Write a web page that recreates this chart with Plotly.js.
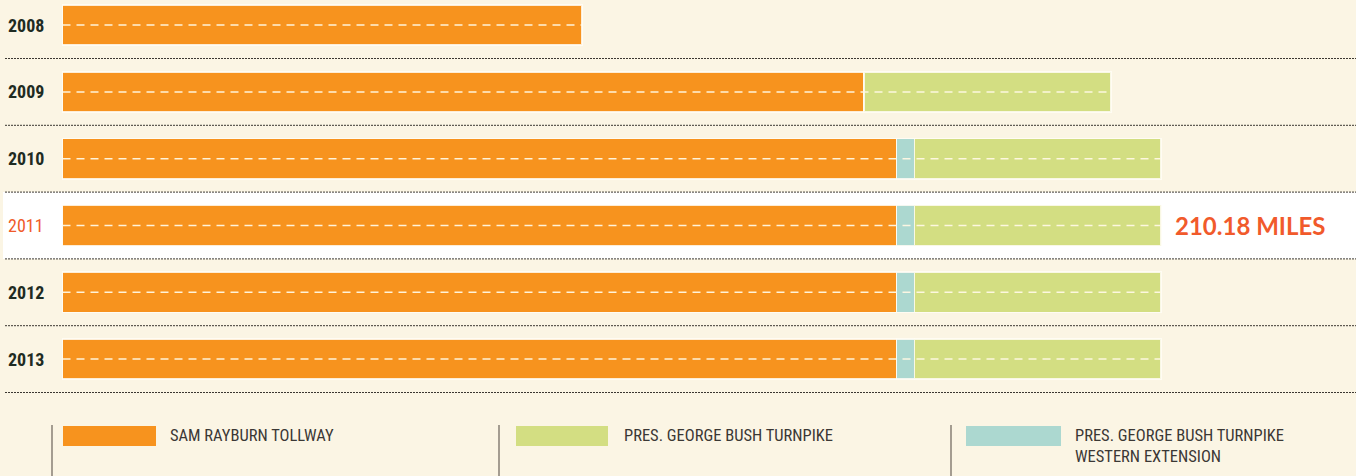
<!DOCTYPE html>
<html>
<head>
<meta charset="utf-8">
<script src="https://cdn.plot.ly/plotly-3.0.1.min.js"></script>
<style>
html,body{margin:0;padding:0;background:#fbf5e4;}
#chart{width:1356px;height:476px;}
</style>
</head>
<body>
<div id="chart"></div>
<script>
// ---- data ----
const years = ['2008', '2009', '2010', '2011', '2012', '2013'];
const samRayburn = [99.4, 153.4, 159.6, 159.6, 159.6, 159.6];
const westernExtension = [null, null, 3.4, 3.4, 3.4, 3.4];
const bushTurnpike = [null, 47.18, 47.18, 47.18, 47.18, 47.18];
const seriesNames = ['SAM RAYBURN TOLLWAY', 'PRES. GEORGE BUSH TURNPIKE', 'PRES. GEORGE BUSH TURNPIKE<br>WESTERN EXTENSION'];
const highlightYear = '2011';
const unitLabel = 'MILES';

// ---- style ----
const W = 1356, H = 476;
const orange = '#f7931e', green = '#d3de82', teal = '#acd8d0';
const bg = '#fbf5e4';
const condensed = '"Liberation Sans Narrow", "Roboto Condensed", "DejaVu Sans Condensed", "Arial Narrow", Roboto, sans-serif';
const pxScale = 5.2265;           // px per mile
const x0px = 62.5;                // pixel where 0 miles sits
const rowStep = 66.8, hlCenter = 225.5;
const yTop = 3 - hlCenter / rowStep;
const yBot = 3 + (H - hlCenter) / rowStep;

const totals = years.map((y, i) => (samRayburn[i] || 0) + (westernExtension[i] || 0) + (bushTurnpike[i] || 0));

const edge = {color: 'rgba(255,253,246,0.85)', width: 1.6};
const barCommon = {
  type: 'bar', orientation: 'h', y: years, width: 0.6,
  hoverinfo: 'skip', showlegend: false
};
const traces = [
  Object.assign({}, barCommon, {x: samRayburn, name: seriesNames[0], marker: {color: orange, line: edge}}),
  Object.assign({}, barCommon, {x: westernExtension, name: seriesNames[2], marker: {color: teal, line: edge}}),
  Object.assign({}, barCommon, {x: bushTurnpike, name: seriesNames[1], marker: {color: green, line: edge}})
];

// dashed centre line through each bar
const dx = [], dy = [];
years.forEach((y, i) => { dx.push(0, totals[i], null); dy.push(y, y, null); });
traces.push({
  type: 'scatter', mode: 'lines', x: dx, y: dy, connectgaps: false,
  line: {color: 'rgba(255,248,228,0.95)', width: 1.5, dash: '8px,6px'},
  hoverinfo: 'skip', showlegend: false
});

const shapes = [];
const annotations = [];
const hIdx = years.indexOf(highlightYear);

// highlight band
shapes.push({type: 'rect', layer: 'below', xref: 'paper', yref: 'y',
  x0: 3 / W, x1: 1, y0: hIdx - 0.5, y1: hIdx + 0.5,
  fillcolor: '#ffffff', line: {width: 0}});

// dotted separators below each row
years.forEach((y, i) => {
  shapes.push({type: 'line', layer: 'above', xref: 'paper', yref: 'y',
    x0: 5 / W, x1: 1, y0: i + 0.5, y1: i + 0.5,
    line: {color: '#3b3731', width: 1, dash: '2px,1px'}});
});

// year labels
years.forEach((y, i) => {
  const hl = y === highlightYear;
  annotations.push({xref: 'paper', yref: 'y', x: 6 / W, y: i, xanchor: 'left', yanchor: 'middle',
    text: hl ? y : '<b>' + y + '</b>', showarrow: false,
    font: {family: condensed, size: 18, color: hl ? '#f05a2a' : '#1f2b22'}});
});

// total label for highlighted year
annotations.push({xref: 'x', yref: 'y', x: totals[hIdx], y: hIdx, xanchor: 'left', yanchor: 'middle',
  xshift: 12,
  text: '<b>' + totals[hIdx].toFixed(2) + ' ' + unitLabel + '</b>', showarrow: false,
  font: {family: 'Lato, "Open Sans", sans-serif', size: 24, color: '#f15a2b'}});

// legend
const legColors = [orange, green, teal];
const legNames = [seriesNames[0], seriesNames[1], seriesNames[2]];
const legDividers = [52, 499, 951];
const legRects = [[63, 156], [516, 608], [966, 1061]];
const legText = [168, 622, 1073];
legNames.forEach((n, k) => {
  shapes.push({type: 'line', xref: 'paper', yref: 'paper',
    x0: legDividers[k] / W, x1: legDividers[k] / W, y0: 1 - 425 / H, y1: 0,
    line: {color: '#6b625a', width: 1.2}});
  shapes.push({type: 'rect', xref: 'paper', yref: 'paper',
    x0: legRects[k][0] / W, x1: legRects[k][1] / W, y0: 1 - 426 / H, y1: 1 - 446 / H,
    fillcolor: legColors[k], line: {width: 0}});
  annotations.push({xref: 'paper', yref: 'paper', x: legText[k] / W, y: 1 - 424 / H,
    xanchor: 'left', yanchor: 'top', align: 'left', showarrow: false, text: n,
    font: {family: condensed, size: 16.5, color: '#3b3835'}});
});

const layout = {
  width: W, height: H,
  margin: {l: 0, r: 0, t: 0, b: 0, pad: 0},
  paper_bgcolor: bg, plot_bgcolor: bg,
  barmode: 'stack', bargap: 0.4,
  showlegend: false, hovermode: false,
  xaxis: {range: [-x0px / pxScale, (W - x0px) / pxScale], showticklabels: false, ticks: '', showline: false, showgrid: false, zeroline: false, fixedrange: true},
  yaxis: {type: 'category', categoryorder: 'array', categoryarray: years,
    range: [yBot, yTop], showticklabels: false, ticks: '', showline: false, showgrid: false, zeroline: false, fixedrange: true},
  shapes: shapes, annotations: annotations
};

Plotly.newPlot('chart', traces, layout, {displayModeBar: false, staticPlot: true});
</script>
</body>
</html>
